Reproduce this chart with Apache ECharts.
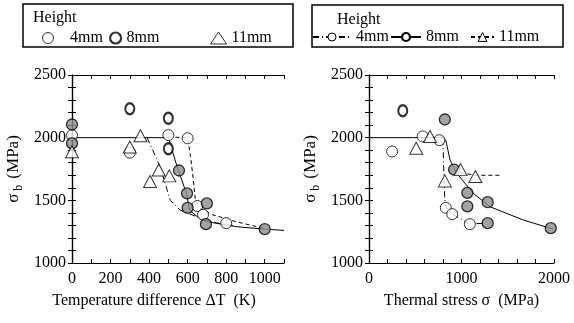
<!DOCTYPE html>
<html><head><meta charset="utf-8">
<script src="https://cdn.jsdelivr.net/npm/echarts@6/dist/echarts.min.js"></script>
<style>html,body{margin:0;padding:0;background:#fff}#c{width:574px;height:323px}</style>
</head><body><div id="c"></div>
<script>
// ---- Left panel: sigma_b vs temperature difference dT (K) ----
const L4_x = [0, 300, 500, 600, 650, 680, 800];
const L4_y = [2020, 1880, 2020, 1995, 1455, 1385, 1318];
const L8f_x = [0, 0, 555, 597, 600, 700, 695, 1000];
const L8f_y = [2105, 1955, 1738, 1555, 1440, 1475, 1310, 1270];
const L8o_x = [300, 500, 500];
const L8o_y = [2230, 2155, 1912];
const L11_x = [0, 300, 355, 405, 450, 505];
const L11_y = [1888, 1925, 2015, 1650, 1742, 1695];
// fitted curves (left)
const L8c_x = [0, 500, 545, 595, 610, 650, 700, 850, 1000, 1100];
const L8c_y = [2000, 2000, 1770, 1550, 1420, 1370, 1330, 1290, 1270, 1260];
const L4c_x = [500, 600, 615, 630, 640, 670, 730, 850, 1000];
const L4c_y = [2005, 2000, 1850, 1660, 1500, 1430, 1385, 1330, 1275];
const L11c_x = [390, 457, 510, 560, 664, 750, 850];
const L11c_y = [2000, 1768, 1500, 1423, 1359, 1320, 1295];

// ---- Right panel: sigma_b vs thermal stress (MPa) ----
const R4_x = [250, 580, 760, 830, 900, 1090];
const R4_y = [1890, 2010, 1980, 1440, 1390, 1310];
const R8f_x = [820, 920, 1063, 1063, 1283, 1283, 1965];
const R8f_y = [2145, 1745, 1560, 1452, 1485, 1318, 1278];
const R8o_x = [365];
const R8o_y = [2215];
const R11_x = [510, 660, 820, 990, 1150];
const R11_y = [1915, 2010, 1655, 1745, 1690];
// fitted curves (right)
const R8c_x = [0, 800, 830, 876, 948, 1128, 1308, 1668, 1993];
const R8c_y = [2000, 2000, 1980, 1822, 1716, 1556, 1449, 1343, 1270];
const R4c_x = [770, 800, 810, 820, 840, 900, 1090, 1250];
const R4c_y = [1980, 1950, 1700, 1500, 1440, 1390, 1310, 1318];
const R11c_x = [990, 1150, 1430];
const R11c_y = [1720, 1700, 1700];

// axis settings
const yMin = 1000, yMax = 2500, yStep = 500;
const LxMin = 0, LxMax = 1100, LxStep = 200;
const RxMin = 0, RxMax = 2000, RxStep = 1000;

const zip = (a, b) => a.map((v, i) => [v, b[i]]);
const FONT = 'Liberation Serif';
const txt = {fontFamily: FONT, fontSize: 16, color: '#000'};
const plain = v => String(v);

const DASH = [4, 3];
const DASHDOT = [6, 3, 1, 3];

function xAx(grid, min, max, step, minor, pos, labels, name, shift) {
  return {
    type: 'value', gridIndex: grid, min, max, interval: step, position: pos,
    axisLine: {show: true, lineStyle: {color: '#000', width: 1.2}},
    axisTick: {show: true, inside: true, length: 4, lineStyle: {color: '#000'}},
    minorTick: {show: true, splitNumber: minor, length: 4, lineStyle: {color: '#000'}},
    splitLine: {show: false},
    axisLabel: labels ? Object.assign({show: true, margin: 8, formatter: plain, showMaxLabel: max % step === 0}, txt) : {show: false},
    name: name || '', nameLocation: 'middle', nameGap: 30,
    nameTextStyle: Object.assign({}, txt, {padding: [0, shift || 0, 0, 0]})
  };
}
function yAx(grid, pos, labels) {
  return {
    type: 'value', gridIndex: grid, min: yMin, max: yMax, interval: yStep, position: pos,
    axisLine: {show: true, lineStyle: {color: '#000', width: 1.2}},
    axisTick: {show: true, inside: true, length: 4, lineStyle: {color: '#000'}},
    minorTick: {show: true, splitNumber: 5, length: 4, lineStyle: {color: '#000'}},
    splitLine: {show: false},
    axisLabel: labels ? Object.assign({show: true, margin: 6, formatter: plain}, txt) : {show: false},
    name: labels ? '{s|σ}{b|b}{m|(MPa)}' : '', nameLocation: 'middle', nameGap: 47,
    nameTextStyle: Object.assign({}, txt, {rich: {
      s: {fontFamily: FONT, fontSize: 17, lineHeight: 22, color: '#000'},
      b: {fontFamily: FONT, fontSize: 12, lineHeight: 22, verticalAlign: 'bottom', padding: [0, 6, 0, 3], color: '#000'},
      m: {fontFamily: FONT, fontSize: 17, lineHeight: 22, color: '#000'}
    }})
  };
}

const openC = {color: '#fff', borderColor: '#000', borderWidth: 1};
const fillC = {color: '#8c8c8c', borderColor: '#000', borderWidth: 1.3};
const boldC = {color: '#fff', borderColor: '#000', borderWidth: 2.2};
const tri = {color: '#fff', borderColor: '#000', borderWidth: 1};

function line(name, xi, yi, xs, ys, type, sym) {
  return {name, type: 'line', xAxisIndex: xi, yAxisIndex: yi, data: zip(xs, ys),
    showSymbol: false, symbol: sym, silent: true, z: 2,
    lineStyle: {color: '#000', width: 1, type}, itemStyle: {color: '#fff', borderColor: '#000'}};
}
function scat(name, xi, yi, xs, ys, sym, size, style) {
  return {name, type: 'scatter', xAxisIndex: xi, yAxisIndex: yi, data: zip(xs, ys),
    symbol: sym, symbolSize: size, itemStyle: style, z: 3, silent: true};
}

function leg(name, left, top, w, h, style) {
  return {data: [name], left, top, itemWidth: w, itemHeight: h, padding: 0, itemGap: 0,
    selectedMode: false, formatter: n => n.slice(1), textStyle: Object.assign({}, txt),
    itemStyle: style};
}

const option = {
  animation: false,
  backgroundColor: '#fff',
  grid: [
    {left: 72, top: 75, width: 212, height: 188},
    {left: 369, top: 75, width: 185, height: 188}
  ],
  xAxis: [
    xAx(0, LxMin, LxMax, LxStep, 2, 'bottom', true, 'Temperature difference ΔT  (K)', 48),
    xAx(0, LxMin, LxMax, LxStep, 2, 'top', false),
    xAx(1, RxMin, RxMax, RxStep, 5, 'bottom', true, 'Thermal stress σ  (MPa)', 0),
    xAx(1, RxMin, RxMax, RxStep, 5, 'top', false)
  ],
  yAxis: [yAx(0, 'left', true), yAx(0, 'right', false), yAx(1, 'left', true), yAx(1, 'right', false)],
  legend: [
    leg('L4mm', 42, 30, 34, 11, openC),
    leg('L8mm', 109, 30, 12, 11, boldC),
    leg('L11mm', 210, 30, 16, 12, tri),
    leg('R4mm', 312, 29, 38, 10, openC),
    leg('R8mm', 390, 29, 30, 10, boldC),
    leg('R11mm', 470, 29, 23, 11, tri)
  ],
  graphic: [
    {type: 'rect', shape: {x: 23, y: 4, width: 270, height: 43}, style: {fill: 'none', stroke: '#000', lineWidth: 1.5}, silent: true},
    {type: 'rect', shape: {x: 312, y: 5, width: 251, height: 42}, style: {fill: 'none', stroke: '#000', lineWidth: 1.5}, silent: true},
    {type: 'text', left: 33, top: 10, style: {text: 'Height', font: '16px "Liberation Serif"', fill: '#000'}, silent: true},
    {type: 'text', left: 337, top: 12, style: {text: 'Height', font: '16px "Liberation Serif"', fill: '#000'}, silent: true}
  ],
  series: [
    line('Lc8', 0, 0, L8c_x, L8c_y, 'solid', 'circle'),
    line('Lc4', 0, 0, L4c_x, L4c_y, DASH, 'circle'),
    line('Lc11', 0, 0, L11c_x, L11c_y, DASHDOT, 'triangle'),
    scat('L4mm', 0, 0, L4_x, L4_y, 'circle', 11, openC),
    scat('L8f', 0, 0, L8f_x, L8f_y, 'circle', 11, fillC),
    scat('L8mm', 0, 0, L8o_x, L8o_y, 'circle', [9, 11], boldC),
    scat('L11mm', 0, 0, L11_x, L11_y, 'triangle', [13, 12], tri),

    line('R8mm', 2, 2, R8c_x, R8c_y, 'solid', 'circle'),
    line('R4mm', 2, 2, R4c_x, R4c_y, DASHDOT, 'circle'),
    line('R11mm', 2, 2, R11c_x, R11c_y, DASH, 'triangle'),
    scat('R4p', 2, 2, R4_x, R4_y, 'circle', 11, openC),
    scat('R8f', 2, 2, R8f_x, R8f_y, 'circle', 11, fillC),
    scat('R8o', 2, 2, R8o_x, R8o_y, 'circle', [9, 11], boldC),
    scat('R11p', 2, 2, R11_x, R11_y, 'triangle', [13, 12], tri)
  ]
};
const chart = echarts.init(document.getElementById('c'), null, {renderer: 'canvas'});
chart.setOption(option);
</script></body></html>
